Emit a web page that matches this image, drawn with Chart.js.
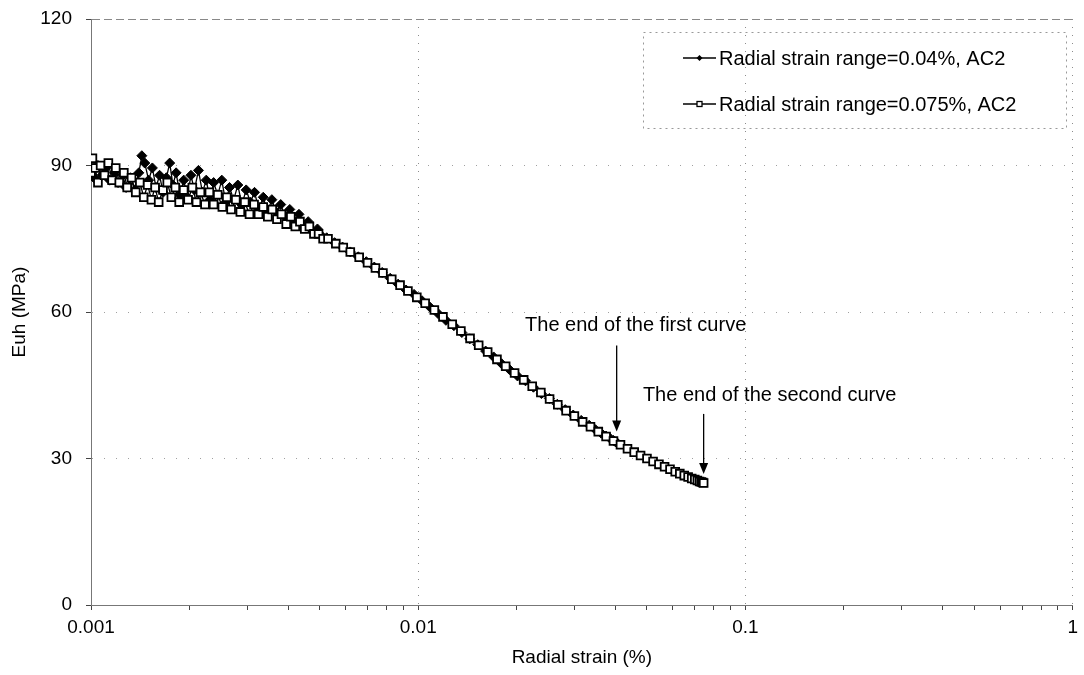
<!DOCTYPE html>
<html>
<head>
<meta charset="utf-8">
<script src="https://cdn.jsdelivr.net/npm/chart.js@4/dist/chart.umd.min.js"></script>
<style>
  body { margin: 0; background: #fff; }
  #chart-1 { display: block; }
</style>
</head>
<body>
<canvas id="chart-1" width="1084" height="675"></canvas>
<script>
// strain range 0.04%, AC2 (filled diamonds)
var s1Strain = [
  0.00100, 0.00102, 0.00105, 0.00108, 0.00111, 0.00114, 0.00118, 0.00121, 0.00125, 0.00128,
  0.00132, 0.00136, 0.00140, 0.00143, 0.00146, 0.00150, 0.00154, 0.00158, 0.00162, 0.00166,
  0.00170, 0.00174, 0.00178, 0.00182, 0.00187, 0.00192, 0.00197, 0.00202, 0.00207, 0.00213,
  0.00219, 0.00225, 0.00231, 0.00237, 0.00244, 0.00251, 0.00258, 0.00265, 0.00273, 0.00281,
  0.00289, 0.00298, 0.00307, 0.00316, 0.00326, 0.00336, 0.00346, 0.00357, 0.00368, 0.00380,
  0.00392, 0.00405, 0.00418, 0.00432, 0.00446, 0.00461, 0.00476, 0.00492, 0.00508,
  0.00525, 0.00555, 0.00587, 0.00620, 0.00656, 0.00694, 0.00734, 0.00776, 0.00821, 0.00868,
  0.00918, 0.00971, 0.01027, 0.01086, 0.01149, 0.01215, 0.01285, 0.01359, 0.01437, 0.01520,
  0.01607, 0.01700, 0.01798, 0.01901, 0.02011, 0.02127, 0.02249, 0.02379, 0.02516, 0.02661,
  0.02814, 0.02976, 0.03148, 0.03329, 0.03480, 0.03620, 0.03750, 0.03860, 0.03950, 0.04010,
  0.04040
];
var s1Euh = [
  89.0, 87.5, 90.0, 88.0, 89.5, 87.0, 88.5, 86.5, 88.0, 85.5,
  87.5, 85.0, 88.5, 92.0, 90.5, 87.0, 89.5, 85.5, 88.0, 84.5,
  87.5, 90.5, 86.0, 88.5, 84.0, 87.0, 83.5, 88.0, 85.0, 89.0,
  84.5, 87.0, 83.0, 86.5, 84.0, 87.0, 82.5, 85.5, 83.0, 86.0,
  82.0, 85.0, 82.5, 84.5, 81.0, 83.5, 80.5, 83.0, 80.5, 82.0,
  79.5, 81.0, 78.5, 80.0, 77.5, 78.5, 76.5, 77.0, 75.5,
  75.2, 74.2, 73.3, 72.3, 71.3, 70.3, 69.2, 68.1, 66.9, 65.7,
  64.5, 63.6, 62.3, 61.0, 59.7, 58.3, 57.2, 55.8, 54.5, 53.3,
  52.0, 50.8, 49.4, 48.2, 46.9, 45.9, 44.6, 43.3, 42.3, 41.1,
  40.0, 38.9, 37.8, 36.8, 35.9, 35.2, 34.6, 34.1, 33.7, 33.4,
  33.3
];

// strain range 0.075%, AC2 (open squares)
var s2Strain = [
  0.00100, 0.00101, 0.00103, 0.00105, 0.00107, 0.00110, 0.00113, 0.00116, 0.00119, 0.00122,
  0.00126, 0.00129, 0.00133, 0.00137, 0.00141, 0.00145, 0.00149, 0.00153, 0.00157, 0.00161,
  0.00166, 0.00171, 0.00176, 0.00181, 0.00186, 0.00192, 0.00198, 0.00204, 0.00210, 0.00216,
  0.00223, 0.00230, 0.00237, 0.00244, 0.00252, 0.00260, 0.00268, 0.00277, 0.00286, 0.00295,
  0.00305, 0.00315, 0.00325, 0.00336, 0.00347, 0.00358, 0.00370, 0.00382, 0.00395, 0.00408,
  0.00421, 0.00435, 0.00450, 0.00465, 0.00480, 0.00496, 0.00512,
  0.00530, 0.00560, 0.00590, 0.00620, 0.00660, 0.00700, 0.00740, 0.00780, 0.00830, 0.00880,
  0.00930, 0.00990, 0.01050, 0.01120, 0.01190, 0.01270, 0.01350, 0.01440, 0.01530, 0.01630,
  0.01740, 0.01850, 0.01970, 0.02100, 0.02230, 0.02370, 0.02520, 0.02670, 0.02830, 0.03000,
  0.03180, 0.03360, 0.03550, 0.03750, 0.03950, 0.04150, 0.04360, 0.04570, 0.04780, 0.05000,
  0.05220, 0.05440, 0.05660, 0.05880, 0.06100, 0.06300, 0.06500, 0.06680, 0.06850, 0.07000,
  0.07130, 0.07240, 0.07330, 0.07400, 0.07450
];
var s2Euh = [
  88.5, 91.5, 89.5, 86.5, 90.0, 88.0, 90.5, 87.0, 89.5, 86.5,
  88.5, 85.5, 87.5, 84.5, 86.5, 83.5, 86.0, 83.0, 85.5, 82.5,
  85.0, 86.5, 83.5, 85.5, 82.5, 85.0, 83.0, 85.5, 82.5, 84.5,
  82.0, 84.5, 82.0, 84.0, 81.5, 83.5, 81.0, 83.0, 80.5, 82.5,
  80.0, 82.0, 80.0, 81.5, 79.5, 81.0, 79.0, 80.0, 78.0, 79.5,
  77.5, 78.5, 77.0, 77.5, 76.0, 76.0, 75.0,
  75.0, 74.0, 73.2, 72.3, 71.2, 70.1, 69.0, 68.0, 66.7, 65.5,
  64.3, 63.0, 61.8, 60.4, 59.0, 57.5, 56.1, 54.6, 53.2, 51.8,
  50.3, 48.9, 47.5, 46.1, 44.8, 43.5, 42.2, 41.0, 39.8, 38.7,
  37.5, 36.5, 35.5, 34.5, 33.6, 32.8, 32.0, 31.3, 30.6, 30.0,
  29.4, 28.8, 28.3, 27.8, 27.3, 26.9, 26.5, 26.2, 25.9, 25.7,
  25.5, 25.3, 25.2, 25.1, 25.0
];

var seriesNames = ['Radial strain range=0.04%, AC2', 'Radial strain range=0.075%, AC2'];
var xDecades = [0.001, 0.01, 0.1, 1];
var yTicks = [0, 30, 60, 90, 120];
var notes = ['The end of the first curve', 'The end of the second curve'];

var FONT = '"Liberation Sans", Arial, sans-serif';
Chart.defaults.font.family = FONT;
Chart.defaults.color = '#000';

function toPoints(xs, ys) {
    return xs.map(function (x, i) { return { x: x, y: ys[i] }; });
}

function isDecade(v) {
    var l = Math.log10(v);
    return Math.abs(l - Math.round(l)) < 1e-6;
}

// arrows + text pointing at the last point of each curve, plus the boxed legend
var extras = {
    id: 'extras',
    afterDatasetsDraw: function (chart) {
        var ctx = chart.ctx;
        var xs = chart.scales.x, ys = chart.scales.y;

        function arrow(x, yTop, yTip) {
            ctx.save();
            ctx.strokeStyle = '#000';
            ctx.fillStyle = '#000';
            ctx.lineWidth = 1.3;
            ctx.beginPath();
            ctx.moveTo(x, yTop);
            ctx.lineTo(x, yTip - 8);
            ctx.stroke();
            ctx.beginPath();
            ctx.moveTo(x - 4.5, yTip - 11);
            ctx.lineTo(x + 4.5, yTip - 11);
            ctx.lineTo(x, yTip);
            ctx.closePath();
            ctx.fill();
            ctx.restore();
        }

        var end1x = xs.getPixelForValue(s1Strain[s1Strain.length - 1]);
        var end1y = ys.getPixelForValue(s1Euh[s1Euh.length - 1]) - 11;
        var end2x = xs.getPixelForValue(s2Strain[s2Strain.length - 1]);
        var end2y = ys.getPixelForValue(s2Euh[s2Euh.length - 1]) - 9;

        arrow(end1x, end1y - 86, end1y);
        arrow(end2x, end2y - 60, end2y);

        ctx.save();
        ctx.font = '20px ' + FONT;
        ctx.fillStyle = '#000';
        ctx.textAlign = 'center';
        ctx.textBaseline = 'middle';
        ctx.fillText(notes[0], end1x + 19, end1y - 106);
        ctx.fillText(notes[1], end2x + 66, end2y - 78);
        ctx.restore();

        // legend box
        ctx.save();
        ctx.strokeStyle = '#999';
        ctx.lineWidth = 1;
        ctx.setLineDash([2, 4]);
        ctx.strokeRect(643.5, 32.5, 423, 96);
        ctx.setLineDash([]);

        var rows = [58, 104];
        for (var i = 0; i < 2; i++) {
            var ly = rows[i];
            ctx.strokeStyle = '#000';
            ctx.lineWidth = 1.3;
            ctx.beginPath();
            ctx.moveTo(683, ly);
            ctx.lineTo(716, ly);
            ctx.stroke();
            if (i === 0) {
                ctx.fillStyle = '#000';
                ctx.beginPath();
                ctx.moveTo(699.5, ly - 3);
                ctx.lineTo(702.5, ly);
                ctx.lineTo(699.5, ly + 3);
                ctx.lineTo(696.5, ly);
                ctx.closePath();
                ctx.fill();
            } else {
                ctx.fillStyle = '#fff';
                ctx.fillRect(697, ly - 2.5, 5, 5);
                ctx.strokeRect(697, ly - 2.5, 5, 5);
            }
            ctx.fillStyle = '#000';
            ctx.font = '20px ' + FONT;
            ctx.textAlign = 'left';
            ctx.textBaseline = 'middle';
            ctx.fillText(seriesNames[i], 719, ly + 1);
        }
        ctx.restore();
    }
};

var chart1 = document.getElementById('chart-1').getContext('2d');

var myChart = new Chart(chart1, {
    type: 'line',
    data: {
        datasets: [{
            label: seriesNames[0],
            data: toPoints(s1Strain, s1Euh),
            borderColor: '#000',
            backgroundColor: '#000',
            borderWidth: 1.3,
            pointStyle: 'rectRot',
            pointRadius: 5,
            pointBorderWidth: 1,
            order: 1
        }, {
            label: seriesNames[1],
            data: toPoints(s2Strain, s2Euh),
            borderColor: '#000',
            backgroundColor: '#fff',
            borderWidth: 1.3,
            pointStyle: 'rect',
            pointRadius: 5.5,
            pointBorderWidth: 1.8,
            order: 0
        }]
    },
    options: {
        responsive: false,
        animation: false,
        layout: {
            padding: { top: 19, right: 11, left: 0, bottom: 0 }
        },
        plugins: {
            legend: { display: false },
            tooltip: { enabled: false }
        },
        scales: {
            x: {
                type: 'logarithmic',
                min: 0.001,
                max: 1,
                afterBuildTicks: function (scale) {
                    var ticks = [];
                    xDecades.forEach(function (d, i) {
                        ticks.push({ value: d });
                        if (i < xDecades.length - 1) {
                            for (var k = 2; k <= 9; k++) ticks.push({ value: +(d * k).toPrecision(3) });
                        }
                    });
                    scale.ticks = ticks;
                },
                afterFit: function (scale) { scale.height = 70; },
                ticks: {
                    autoSkip: false,
                    maxRotation: 0,
                    padding: 6,
                    font: { size: 19 },
                    callback: function (v) { return isDecade(v) ? String(v) : ''; }
                },
                grid: {
                    color: function (c) {
                        return c.tick && isDecade(c.tick.value) ? '#8c8c8c' : 'rgba(0,0,0,0)';
                    },
                    lineWidth: 1,
                    tickLength: 5,
                    tickColor: '#444'
                },
                border: { color: '#777', width: 1, dash: [1, 7] },
                title: {
                    display: true,
                    text: 'Radial strain (%)',
                    font: { size: 19 },
                    padding: { top: 0, bottom: 6 }
                }
            },
            y: {
                min: 0,
                max: 120,
                afterBuildTicks: function (scale) {
                    scale.ticks = yTicks.map(function (v) { return { value: v }; });
                },
                afterFit: function (scale) {
                    scale.width = 91;
                    scale.paddingTop = 0;
                    scale.paddingBottom = 0;
                },
                ticks: {
                    padding: 14,
                    font: { size: 19 }
                },
                grid: {
                    color: function (c) {
                        return c.tick && c.tick.value === 120 ? '#888' : '#a0a0a0';
                    },
                    tickLength: 5,
                    tickColor: '#444'
                },
                border: {
                    color: '#777',
                    width: 1,
                    dash: function (c) {
                        return c.tick && c.tick.value === 120 ? [8, 4] : [1, 11];
                    }
                },
                title: {
                    display: true,
                    text: 'Euh (MPa)',
                    font: { size: 19 },
                    padding: { top: 8, bottom: 0 }
                }
            }
        }
    },
    plugins: [extras]
});
</script>
</body>
</html>
